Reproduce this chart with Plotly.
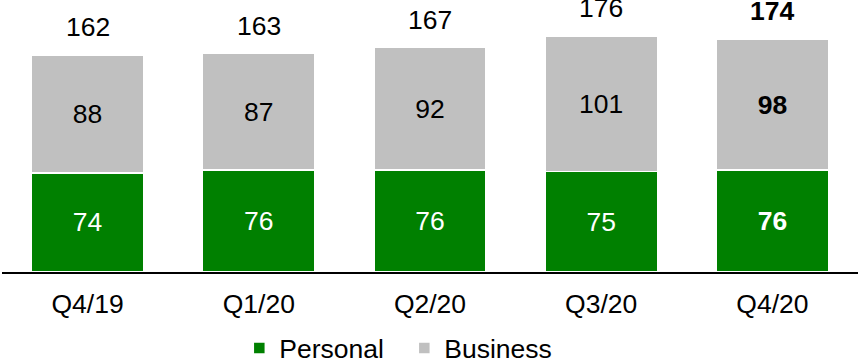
import plotly.graph_objects as go

categories = ["Q4/19", "Q1/20", "Q2/20", "Q3/20", "Q4/20"]
personal = [74, 76, 76, 75, 76]
business = [88, 87, 92, 101, 98]
totals = [162, 163, 167, 176, 174]
bold_last = [False, False, False, False, True]

FONT = "Liberation Sans, Arial, sans-serif"
FS = 26.5

def fmt(v, b):
    return f"<b>{v}</b>" if b else str(v)

fig = go.Figure()
fig.add_trace(go.Bar(
    x=categories, y=personal, name="Personal",
    marker=dict(color="#008000", line=dict(color="white", width=1.5)),
    text=[fmt(v, b) for v, b in zip(personal, bold_last)],
    textposition="inside", insidetextanchor="middle",
    textfont=dict(color="white", size=FS, family=FONT),
))
fig.add_trace(go.Bar(
    x=categories, y=business, name="Business",
    marker=dict(color="#C0C0C0", line=dict(color="white", width=1.5)),
    text=[fmt(v, b) for v, b in zip(business, bold_last)],
    textposition="inside", insidetextanchor="middle",
    textfont=dict(color="black", size=FS, family=FONT),
))

for c, t, b in zip(categories, totals, bold_last):
    fig.add_annotation(x=c, y=t, text=fmt(t, b), showarrow=False,
                       yanchor="middle", yshift=28,
                       font=dict(size=FS, color="black", family=FONT))

fig.update_layout(
    width=859, height=361,
    barmode="stack", bargap=0.345,
    margin=dict(l=2, r=1, t=0, b=89, autoexpand=False),
    plot_bgcolor="white", paper_bgcolor="white",
    font=dict(family=FONT, size=FS, color="black"),
    showlegend=True,
    legend=dict(orientation="h", x=0.47, xanchor="center", y=-0.28, yanchor="middle",
                font=dict(size=FS, family=FONT), traceorder="normal",
                itemwidth=30, entrywidth=120),
    uniformtext=dict(mode=False),
)
fig.update_xaxes(showline=True, linecolor="black", linewidth=2, ticks="outside",
                 ticklen=7, tickcolor="white", tickfont=dict(size=FS, family=FONT),
                 showgrid=False, automargin=False)
fig.update_yaxes(range=[0, 203], visible=False, showgrid=False, automargin=False)

fig.write_html("out.html", config={"displayModeBar": False},
               post_script="document.body.style.margin='0';document.body.style.overflow='hidden';")
